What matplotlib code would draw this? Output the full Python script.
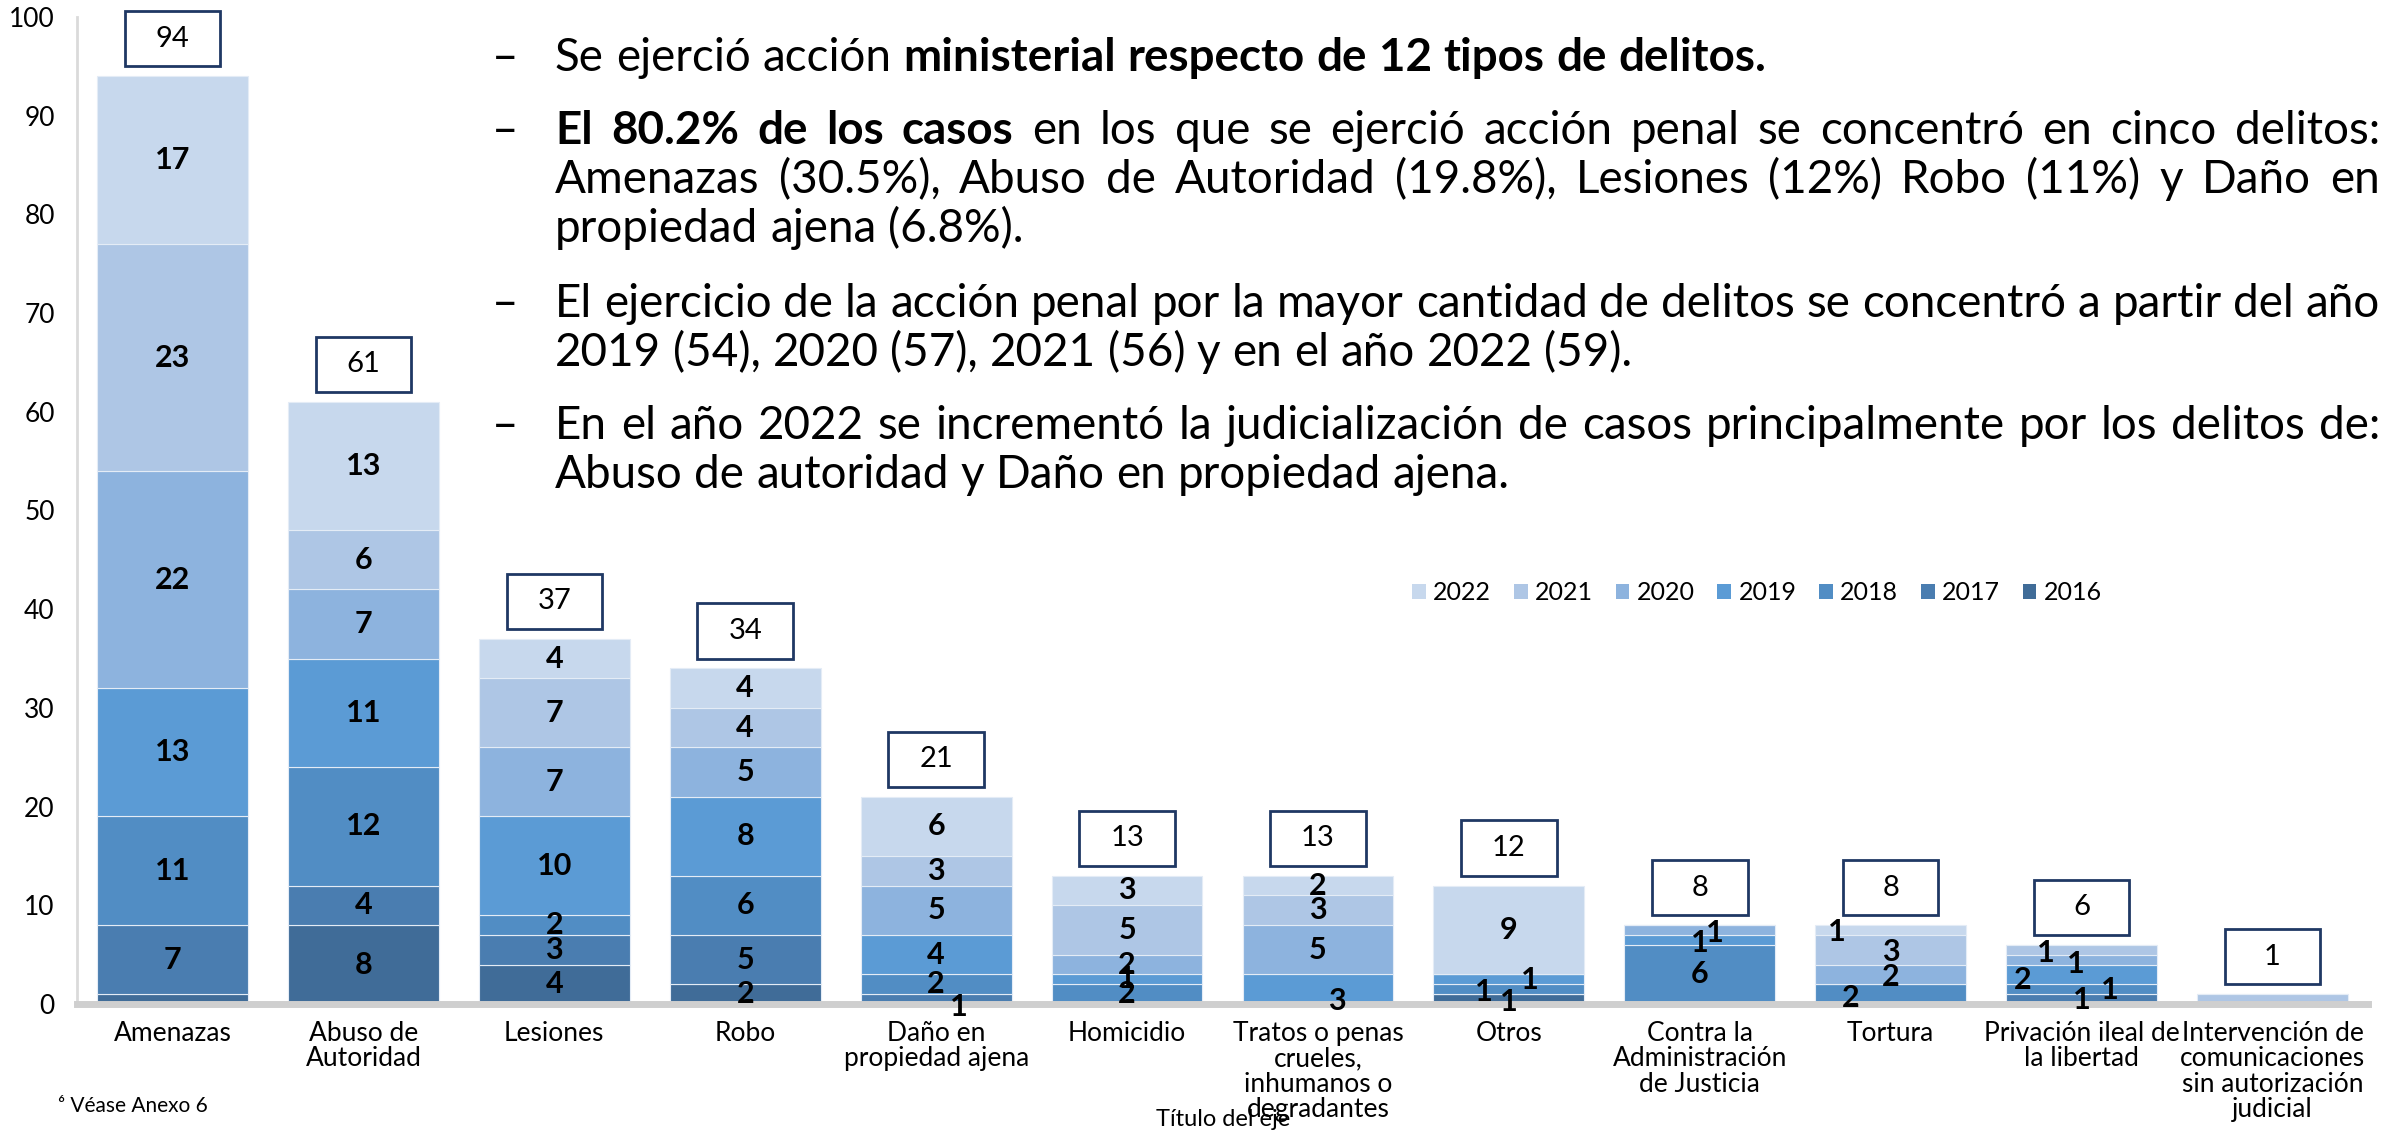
import matplotlib.pyplot as plt
from matplotlib.patches import Rectangle
import numpy as np

plt.rcParams['font.family'] = ['Lato', 'DejaVu Sans']

categories = ["Amenazas", "Abuso de\nAutoridad", "Lesiones", "Robo", "Daño en\npropiedad ajena",
              "Homicidio", "Tratos o penas\ncrueles,\ninhumanos o\ndegradantes", "Otros",
              "Contra la\nAdministración\nde Justicia", "Tortura", "Privación ileal de\nla libertad",
              "Intervención de\ncomunicaciones\nsin autorización\njudicial"]
years = ["2016", "2017", "2018", "2019", "2020", "2021", "2022"]
v2016 = [1, 8, 4, 2, 0, 0, 0, 1, 0, 0, 0, 0]
v2017 = [7, 4, 3, 5, 1, 0, 0, 0, 0, 0, 1, 0]
v2018 = [11, 12, 2, 6, 2, 2, 0, 1, 6, 2, 1, 0]
v2019 = [13, 11, 10, 8, 4, 1, 3, 1, 1, 0, 2, 0]
v2020 = [22, 7, 7, 5, 5, 2, 5, 0, 1, 2, 1, 0]
v2021 = [23, 6, 7, 4, 3, 5, 3, 0, 0, 3, 1, 1]
v2022 = [17, 13, 4, 4, 6, 3, 2, 9, 0, 1, 0, 0]
series = [v2016, v2017, v2018, v2019, v2020, v2021, v2022]
colors = ['#406c98', '#4a7db0', '#518dc4', '#5b9bd5', '#8db3de', '#aec6e5', '#c7d8ed']

# hand-moved labels on the crowded small segments: (cat, year) -> (dx, y)
nudge = {(4, 1): (0.12, -0.3), (6, 3): (0.1, 0.3),
         (7, 0): (0, 0.2), (7, 2): (-0.13, 1.2), (7, 3): (0.11, 2.4),
         (8, 3): (0, 6.2), (8, 4): (0.08, 7.2),
         (9, 2): (-0.21, 0.6), (9, 4): (0, 2.7), (9, 5): (0, 5.3), (9, 6): (-0.28, 7.3),
         (10, 1): (0, 0.4), (10, 2): (0.15, 1.4), (10, 3): (-0.31, 2.4),
         (10, 4): (-0.03, 4.1), (10, 5): (-0.19, 5.2)}
hidden = {(0, 0), (11, 5)}

W, H = 2392, 1130
fig = plt.figure(figsize=(W / 100, H / 100), dpi=100)
ax = fig.add_axes([77 / W, 126 / H, 2291 / W, 987 / H])

x = np.arange(len(categories))
bottom = np.zeros(len(categories))
handles = []
for j, vals in enumerate(series):
    vals = np.array(vals)
    b = ax.bar(x, vals, 0.79, bottom=bottom, color=colors[j], edgecolor='#e4ecf6', linewidth=0.8)
    handles.append(b)
    for i, v in enumerate(vals):
        if v == 0 or (i, j) in hidden:
            continue
        dx, yy = nudge.get((i, j), (0, bottom[i] + v / 2))
        ax.text(i + dx, yy, str(v), ha='center', va='center', fontsize=22,
                fontweight='bold', color='black', clip_on=False)
    bottom += vals

totals = bottom
for i, t in enumerate(totals):
    ax.add_patch(Rectangle((i - 0.25, t + 1.0), 0.5, 5.6, facecolor='white',
                           edgecolor='#1f3864', linewidth=2, clip_on=False, zorder=3))
    ax.text(i, t + 3.8, str(int(t)), ha='center', va='center', fontsize=21, zorder=4)

ax.set_xlim(-0.5, len(categories) - 0.5)
ax.set_ylim(0, 100)
ax.set_yticks(range(0, 101, 10))
ax.set_xticks(x)
ax.set_xticklabels(categories, fontsize=19, linespacing=1.03)
ax.tick_params(axis='y', length=0, pad=16, labelsize=19)
ax.tick_params(axis='x', length=0, pad=12)
for s in ['top', 'right']:
    ax.spines[s].set_visible(False)
ax.spines['left'].set_color('#dadada')
ax.spines['left'].set_linewidth(2)
ax.spines['bottom'].set_color('#cfcfcf')
ax.spines['bottom'].set_linewidth(5)

leg = fig.legend(handles[::-1], years[::-1], loc='center', bbox_to_anchor=(1757 / W, 1 - 593 / H),
                 ncol=7, frameon=False, fontsize=18, handlelength=0.55, handleheight=0.55,
                 handletextpad=0.3, columnspacing=0.9)
for h in leg.legend_handles:
    h.set_edgecolor('none')

# text block, justified by hand word by word
r = fig.canvas.get_renderer()
X0, X1, DASH = 555, 2380, 492

def width(s, bold, fs):
    t = fig.text(0, 0, s, fontsize=fs, fontweight='bold' if bold else 'normal')
    w = t.get_window_extent(renderer=r).width
    t.remove()
    return w

paragraphs = [
    [(71, [("Se ejerció acción", False), ("ministerial respecto de 12 tipos de delitos.", True)], False)],
    [(144, [("El 80.2% de los casos", True), ("en los que se ejerció acción penal se concentró en cinco delitos:", False)], True),
     (193, [("Amenazas (30.5%), Abuso de Autoridad (19.8%), Lesiones (12%) Robo (11%) y Daño en", False)], True),
     (242, [("propiedad ajena (6.8%).", False)], False)],
    [(317, [("El ejercicio de la acción penal por la mayor cantidad de delitos se concentró a partir del año", False)], True),
     (366, [("2019 (54), 2020 (57), 2021 (56) y en el año 2022 (59).", False)], False)],
    [(439, [("En el año 2022 se incrementó la judicialización de casos principalmente por los delitos de:", False)], True),
     (488, [("Abuso de autoridad y Daño en propiedad ajena.", False)], False)],
]

w_line1 = sum(width(s, b, 20) for s, b in paragraphs[0][0][1]) + width("a b", False, 20) - width("ab", False, 20)
fs = 20 * (1765 - X0) / w_line1
space = width("a b", False, fs) - width("ab", False, fs)

for para in paragraphs:
    fig.text(DASH / W, 1 - para[0][0] / H, "–", fontsize=fs, va='baseline', ha='left')
    for y, segs, justify in para:
        words = [(w, b) for s, b in segs for w in s.split()]
        ws = [width(w, b, fs) for w, b in words]
        gap = (X1 - X0 - sum(ws)) / (len(words) - 1) if justify else space
        xx = X0
        for (w, b), wd in zip(words, ws):
            fig.text(xx / W, 1 - y / H, w, fontsize=fs, fontweight='bold' if b else 'normal',
                     va='baseline', ha='left')
            xx += wd + gap

fig.text(58 / W, 1 - 1106 / H, "⁶ Véase Anexo 6", fontsize=15, va='center', ha='left')
fig.text(1223 / W, 4 / H, "Título del eje", fontsize=17, va='baseline', ha='center')

fig.savefig("out.png", dpi=100)
